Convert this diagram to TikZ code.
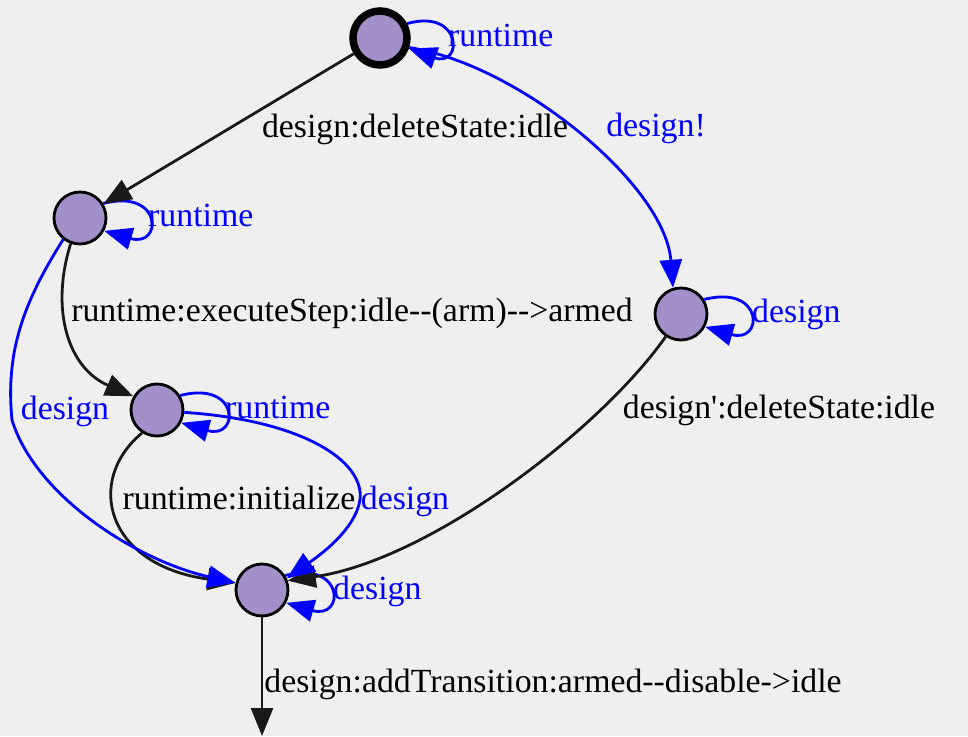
\documentclass[tikz,border=0pt]{standalone}
\usepackage{fontspec}
\setmainfont{Liberation Serif}[Ligatures=TeXOff]
\usetikzlibrary{arrows.meta,calc}
\definecolor{bgc}{RGB}{239,239,239}
\definecolor{stfill}{RGB}{163,144,203}
\definecolor{edgeblue}{RGB}{0,0,255}
\definecolor{edgeblack}{RGB}{25,25,25}
\begin{document}
\begin{tikzpicture}[x=1pt,y=1pt,
  state/.style={circle,draw=black,fill=stfill,line width=2.8pt,minimum size=52pt,inner sep=0pt},
  startstate/.style={state,line width=7.5pt,minimum size=54pt},
  blk/.style={draw=edgeblack,line width=2.8pt,-{Triangle[length=28pt,width=22pt]}},
  blu/.style={draw=edgeblue,line width=2.8pt,-{Triangle[length=28pt,width=22pt]}},
  lbl/.style={font=\fontsize{33.8}{40}\selectfont,inner sep=0pt,anchor=base},
  lblb/.style={lbl,text=edgeblue},
  lblk/.style={lbl,text=black},
]
\fill[bgc] (0,0) rectangle (968,736);
\useasboundingbox (0,0) rectangle (968,736);

\node[startstate] (n0) at (380,698) {};
\node[state] (n1) at (80,518) {};
\node[state] (n2) at (157,326) {};
\node[state] (n3) at (681,422) {};
\node[state] (n4) at (262,146) {};
\coordinate (outc) at (262,0);

% self loops
\draw[blu] (n0.28) .. controls ($(n0)+(83,30)$) and ($(n0)+(83,-30)$) .. (n0.-20);
\foreach \n in {n1,n2,n3,n4}
  \draw[blu] (\n.32) .. controls ($(\n)+(83,30)$) and ($(\n)+(83,-30)$) .. (\n.-28);

% transitions
\draw[blk] (n0) -- (n1);
\draw[blu] (n0.-18) .. controls (520,671) and (665,551) .. (n3.107);
\draw[blk] (n1.-110) .. controls (50,426) and (68,368) .. (n2.150);
\draw[blk] (n2.-123) .. controls (85,256) and (105,171) .. (n4.165);
\draw[blu] (n1.-128) .. controls (25,436) and (5,386) .. (12,316)
                     .. controls (35,241) and (135,176) .. (n4.165);
\draw[blk] (n3.-124) .. controls (600,306) and (430,176) .. (n4.20);
\draw[blu] (n2.-5) .. controls (300,316) and (365,276) .. (360,236)
                   .. controls (355,206) and (320,181) .. (n4.25);
\draw[blk] (n4) -- (outc);

% loop labels
\node[lblb,anchor=base west] (l0) at ($(n0)+(68,-9)$) {runtime};
\node[lblb,anchor=base west] (l1) at ($(n1)+(68,-9)$) {runtime};
\node[lblb,anchor=base west] (l2) at ($(n2)+(68,-9)$) {runtime};
\node[lblb,anchor=base west] (l3) at ($(n3)+(71,-9)$) {design};
\node[lblb,anchor=base west] (l4) at ($(n4)+(71,-9)$) {design};

% edge labels
\node[lblk] (e01) at (415,598) {design:deleteState:idle};
\node[lblb] (e03) at (656,599) {design!};
\node[lblk] (e12) at (352,414) {runtime:executeStep:idle-\kern0pt-(arm)-\kern0pt-\kern0pt>armed};
\node[lblb] (e14) at (65,316) {design};
\node[lblk] (e24) at (239,226) {runtime:initialize};
\node[lblb] (e24b) at (405,226) {design};
\node[lblk] (e34) at (779,317) {design\char"0027\relax:deleteState:idle};
\node[lblk] (e4o) at (553,44) {design:addTransition:armed-\kern0pt-disable->idle};
\end{tikzpicture}
\end{document}
